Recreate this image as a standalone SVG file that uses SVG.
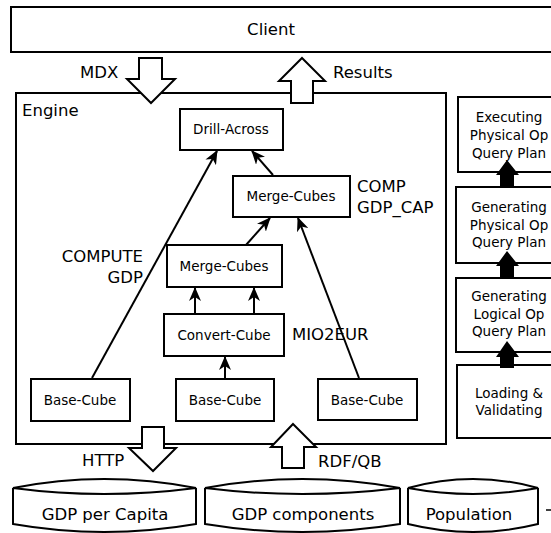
<svg xmlns="http://www.w3.org/2000/svg" width="551" height="533" viewBox="0 0 551 533">
<defs>
<marker id="ah" markerUnits="userSpaceOnUse" markerWidth="14" markerHeight="12" refX="13" refY="6" orient="auto">
<path d="M0,0 L14,6 L0,12 L4,6 Z" fill="#000"/>
</marker>
<style>
.box{fill:#fff;stroke:#000;stroke-width:2}
.blk{fill:#000;stroke:none}
.t{font-family:"DejaVu Sans",sans-serif;fill:#000}
.s{font-size:13.5px;text-anchor:middle}
.l{font-size:16.5px}
.c{stroke:#000;stroke-width:2;fill:none;marker-end:url(#ah)}
</style>
</defs>
<rect width="551" height="533" fill="#fff"/>
<g id="client">
<rect class="box" x="11" y="7" width="560" height="45"/>
<text class="t l" x="271" y="35" text-anchor="middle">Client</text>
</g>
<g id="engine">
<rect class="box" x="16" y="93" width="430" height="351"/>
<text class="t l" x="22" y="116">Engine</text>
</g>
<g id="drill-across">
<rect class="box" x="180" y="109" width="103" height="41"/>
<text class="t s" x="231" y="134">Drill-Across</text>
</g>
<g id="merge-cubes-1">
<rect class="box" x="233" y="176" width="117" height="41"/>
<text class="t s" x="291" y="201">Merge-Cubes</text>
</g>
<g id="merge-cubes-2">
<rect class="box" x="167" y="245" width="115" height="42"/>
<text class="t s" x="224" y="271">Merge-Cubes</text>
</g>
<g id="convert-cube">
<rect class="box" x="164" y="314" width="120" height="42"/>
<text class="t s" x="224" y="340">Convert-Cube</text>
</g>
<g id="base-cube-1">
<rect class="box" x="31" y="379" width="99" height="42"/>
<text class="t s" x="80" y="405">Base-Cube</text>
</g>
<g id="base-cube-2">
<rect class="box" x="176" y="379" width="98" height="42"/>
<text class="t s" x="225" y="405">Base-Cube</text>
</g>
<g id="base-cube-3">
<rect class="box" x="318" y="379" width="99" height="41"/>
<text class="t s" x="367" y="405">Base-Cube</text>
</g>
<g id="labels">
<text class="t l" x="143" y="262" text-anchor="end">COMPUTE</text>
<text class="t l" x="143" y="283" text-anchor="end">GDP</text>
<text class="t l" x="357" y="192">COMP</text>
<text class="t l" x="357" y="213">GDP_CAP</text>
<text class="t l" x="292" y="340">MIO2EUR</text>
<text class="t l" x="80" y="78">MDX</text>
<text class="t l" x="333" y="78">Results</text>
<text class="t l" x="82" y="466">HTTP</text>
<text class="t l" x="318" y="467">RDF/QB</text>
</g>
<g id="connectors">
<line class="c" x1="92" y1="378" x2="217" y2="151"/>
<line class="c" x1="273" y1="175" x2="252" y2="151"/>
<line class="c" x1="246" y1="245" x2="270" y2="218"/>
<line class="c" x1="359" y1="378" x2="298" y2="218"/>
<line class="c" x1="195" y1="314" x2="195" y2="288"/>
<line class="c" x1="254" y1="314" x2="254" y2="288"/>
<line class="c" x1="225" y1="379" x2="225" y2="357"/>
</g>
<g id="io-arrows">
<polygon class="box" points="139,58 162,58 162,79 175,79 151,103 127,79 139,79"/>
<polygon class="box" points="302,58 325,81 313,81 313,103 291,103 291,81 279,81"/>
<polygon class="box" points="142,427 164,427 164,448 176,448 153,471 129,448 142,448"/>
<polygon class="box" points="293,424 316,447 304,447 304,468 282,468 282,447 271,447"/>
</g>
<g id="executing">
<rect class="box" x="458" y="97" width="104" height="75"/>
<text class="t s" x="509" y="122">Executing</text>
<text class="t s" x="509" y="140">Physical Op</text>
<text class="t s" x="509" y="158">Query Plan</text>
</g>
<g id="gen-physical">
<rect class="box" x="456" y="187" width="106" height="76"/>
<text class="t s" x="509" y="212">Generating</text>
<text class="t s" x="509" y="230">Physical Op</text>
<text class="t s" x="509" y="247">Query Plan</text>
</g>
<g id="gen-logical">
<rect class="box" x="456" y="278" width="106" height="74"/>
<text class="t s" x="509" y="301">Generating</text>
<text class="t s" x="509" y="319">Logical Op</text>
<text class="t s" x="509" y="336">Query Plan</text>
</g>
<g id="loading">
<rect class="box" x="457" y="365" width="105" height="73"/>
<text class="t s" x="509" y="398">Loading &amp;</text>
<text class="t s" x="509" y="415">Validating</text>
</g>
<g id="pipeline-arrows">
<polygon class="blk" points="507,160 519,175 514,175 514,188 500,188 500,175 496,175"/>
<polygon class="blk" points="507,251 519,266 514,266 514,279 500,279 500,266 496,266"/>
<polygon class="blk" points="507,341 519,357 514,357 514,368 500,368 500,357 496,357"/>
</g>
<g id="gdp-per-capita">
<path class="box" d="M13,488 Q104,470 196,488 Q104,500 13,488 Z M13,488 L13,524 Q104,540 196,524 L196,488"/>
<text class="t l" x="105" y="520" text-anchor="middle">GDP per Capita</text>
</g>
<g id="gdp-components">
<path class="box" d="M205,488 Q302,470 400,488 Q302,500 205,488 Z M205,488 L205,524 Q302,540 400,524 L400,488"/>
<text class="t l" x="303" y="520" text-anchor="middle">GDP components</text>
</g>
<g id="population">
<path class="box" d="M408,488 Q473,470 538,488 Q473,500 408,488 Z M408,488 L408,524 Q473,540 538,524 L538,488"/>
<text class="t l" x="469" y="520" text-anchor="middle">Population</text>
</g>
<line x1="546" y1="510" x2="551" y2="510" stroke="#000" stroke-width="1.5"/>
</svg>
